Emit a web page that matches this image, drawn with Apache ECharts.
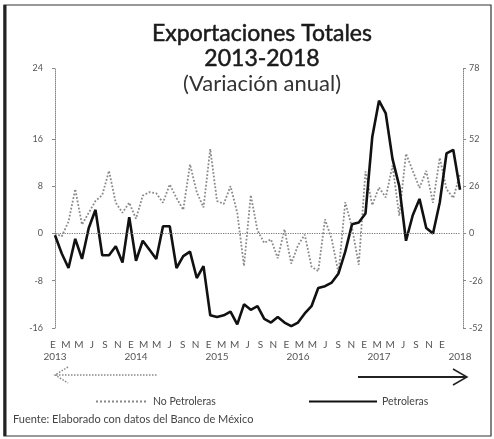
<!DOCTYPE html>
<html>
<head>
<meta charset="utf-8">
<script src="https://cdn.jsdelivr.net/npm/echarts@6/dist/echarts.min.js"></script>
<style>
  html, body { margin: 0; padding: 0; background: #fff; }
  #chart { width: 494px; height: 439px; }
</style>
</head>
<body>
<div id="chart"></div>
<script>
// meses ene-2013 .. ene-2018
const years = ['2013', '2014', '2015', '2016', '2017', '2018'];
const monthLetters = ['E', 'F', 'M', 'A', 'M', 'J', 'J', 'A', 'S', 'O', 'N', 'D'];
const months = [];
for (let i = 0; i < 61; i++) months.push(monthLetters[i % 12]);

// variación anual, eje izquierdo
const noPetroleras = [
  0, -0.5, 2, 7.5, 1.5, 3.5, 5.5, 6.5, 10.6, 5.2, 3.5, 5.2,
  2.5, 6.4, 7, 6.8, 5.2, 8.3, 6, 4, 11.7, 7, 4.4, 14.3,
  5.5, 5, 8, 3.5, -5.5, 6.5, 0.5, -1.6, -1, -4.2, 0.7, -5.1,
  -2, -0.2, -5.6, -6.4, 2.4, -1, -6.7, 5.3, 1, -5.3, 10.5, 4.8,
  7.8, 6.1, 11.5, 3, 13.5, 10.6, 7.7, 10.6, 5.2, 12.8, 7.5, 6,
  10
];
// variación anual, eje derecho
const petroleras = [
  -1, -11, -19, -3, -14, 3, 13, -12, -12, -7, -16, 9,
  -15, -4, -9, -14, 4, 4, -19, -12.5, -10, -24.5, -18, -45,
  -46, -45, -43, -50, -39, -42, -40, -47, -49, -46, -49, -51,
  -49, -44, -40, -30, -29, -27, -22, -10, 5, 6, 11, 53,
  73, 66, 41, 26, -4, 10, 19, 3, 0, 17, 44, 46,
  24
];

const leftTicks = [-16, -8, 0, 8, 16, 28];
const leftTickText = ['-16', '-8', '0', '8', '16', '24'];
const rightTicks = [-52, -26, 0, 26, 52, 91];
const rightTickText = ['-52', '-26', '0', '26', '52', '78'];

const chart = echarts.init(document.getElementById('chart'));
const font = 'Lato';

const option = {
  animation: false,
  title: {
    text: 'Exportaciones Totales\n2013-2018',
    subtext: '(Variación anual)',
    left: 257,
    top: 16,
    textAlign: 'center',
    itemGap: 2,
    textStyle: {
      fontFamily: font, fontSize: 23, fontWeight: 'normal', color: '#1a1a1a', lineHeight: 25,
      textBorderColor: '#1a1a1a', textBorderWidth: 0.5
    },
    subtextStyle: { fontFamily: font, fontSize: 22, color: '#333', lineHeight: 22 }
  },
  legend: [
    {
      data: ['No Petroleras'],
      left: 90, top: 391,
      itemWidth: 52, itemHeight: 8,
      itemStyle: { opacity: 0 },
      lineStyle: { color: '#888', type: 'dotted', width: 2, opacity: 1 },
      textStyle: { fontFamily: font, fontSize: 10.5, color: '#444' }
    },
    {
      data: ['Petroleras'],
      left: 303, top: 391,
      itemWidth: 68, itemHeight: 8,
      itemStyle: { opacity: 0 },
      textStyle: { fontFamily: font, fontSize: 10.5, color: '#444' }
    }
  ],
  grid: [
    { left: 55, right: 34, top: 68, bottom: 111 },
    // solo para las letras de los meses
    { left: 53, width: 389, top: 68, bottom: 111 }
  ],
  xAxis: [
    {
      type: 'category',
      data: months,
      boundaryGap: false,
      axisLine: { show: false, onZero: false },
      axisTick: { show: false },
      axisLabel: {
        interval: 0,
        margin: 24,
        fontFamily: font, fontSize: 10, color: '#555',
        formatter: (v, i) => (i % 12 === 0 ? years[i / 12] : '')
      }
    },
    {
      type: 'category',
      gridIndex: 1,
      data: months.filter((m, i) => i % 2 === 0),
      boundaryGap: false,
      axisLine: { show: false, onZero: false },
      axisTick: { show: false },
      axisLabel: { interval: 0, margin: 12, fontFamily: font, fontSize: 10, color: '#555' }
    }
  ],
  yAxis: [
    {
      type: 'value',
      min: -16, max: 28,
      axisLine: { show: true, lineStyle: { color: '#888', type: 'dotted', width: 1 } },
      axisTick: { show: true, length: 3, customValues: leftTicks, lineStyle: { color: '#888' } },
      axisLabel: {
        customValues: leftTicks,
        margin: 12,
        fontFamily: font, fontSize: 9, color: '#555',
        formatter: v => leftTickText[leftTicks.indexOf(v)]
      },
      splitLine: { show: false }
    },
    {
      type: 'value',
      position: 'right',
      offset: 3,
      min: -52, max: 91,
      axisLine: { show: true, lineStyle: { color: '#888', type: 'dotted', width: 1 } },
      axisTick: { show: true, length: 3, customValues: rightTicks, lineStyle: { color: '#888' } },
      axisLabel: {
        customValues: rightTicks,
        margin: 6,
        fontFamily: font, fontSize: 9, color: '#555',
        formatter: v => rightTickText[rightTicks.indexOf(v)]
      },
      splitLine: { show: false }
    },
    { type: 'value', gridIndex: 1, show: false }
  ],
  series: [
    {
      name: 'No Petroleras',
      type: 'line',
      data: noPetroleras,
      yAxisIndex: 0,
      symbol: 'none',
      lineStyle: { color: '#8a8a8a', width: 1.8, type: 'dotted' },
      itemStyle: { color: '#8a8a8a' },
      markLine: {
        silent: true,
        symbol: ['none', 'none'],
        label: { show: false },
        lineStyle: { color: '#777', type: 'dotted', width: 1.2 },
        data: [{ yAxis: 0 }]
      }
    },
    {
      name: 'Petroleras',
      type: 'line',
      data: petroleras,
      yAxisIndex: 1,
      symbol: 'none',
      lineStyle: { color: '#111', width: 2.6 },
      itemStyle: { color: '#111' }
    }
  ],
  graphic: [
    // marco
    { type: 'rect', shape: { x: 4, y: 5, width: 487, height: 431 }, style: { fill: 'none', stroke: '#333', lineWidth: 1.2 } },
    { type: 'line', shape: { x1: 5, y1: 5, x2: 5, y2: 436 }, style: { stroke: '#222', lineWidth: 3 } },
    // flechas
    { type: 'line', shape: { x1: 56, y1: 375, x2: 158, y2: 375 }, style: { stroke: '#888', lineWidth: 1.5, lineDash: [1.5, 1.5] } },
    { type: 'polyline', shape: { points: [[68, 367], [55, 375], [68, 383]] }, style: { fill: 'none', stroke: '#888', lineWidth: 1.5, lineDash: [1.5, 1.5] } },
    { type: 'line', shape: { x1: 358, y1: 377, x2: 466, y2: 377 }, style: { stroke: '#222', lineWidth: 2 } },
    { type: 'polyline', shape: { points: [[453, 369], [467, 377], [453, 385]] }, style: { fill: 'none', stroke: '#222', lineWidth: 1.5 } },
    // fuente
    {
      type: 'text', left: 13, top: 414,
      style: { text: 'Fuente: Elaborado con datos del Banco de México', font: '11px Lato', fill: '#444' }
    }
  ]
};

chart.setOption(option);
</script>
</body>
</html>
